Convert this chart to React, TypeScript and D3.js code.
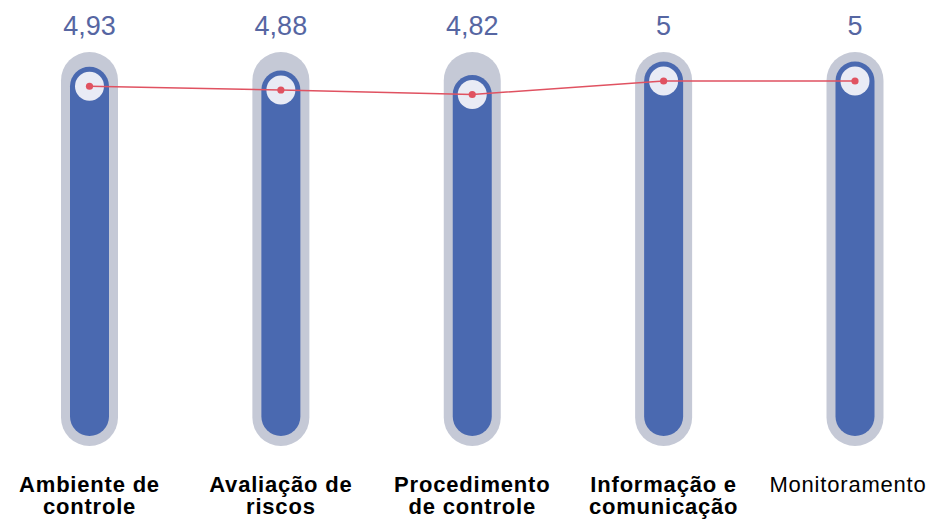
import React from "react";
import * as d3 from "d3";

const categories: string[][] = [
  ["Ambiente de", "controle"],
  ["Avaliação de", "riscos"],
  ["Procedimento", "de controle"],
  ["Informação e", "comunicação"],
  ["Monitoramento"],
];
const values: number[] = [4.93, 4.88, 4.82, 5, 5];
const valueLabels: string[] = ["4,93", "4,88", "4,82", "5", "5"];
const boldFlags: boolean[] = [true, true, true, true, false];
const maxValue = 5;

const W = 929;
const H = 520;

export default function App() {
  const idx = values.map((_, i) => String(i));
  const x = d3.scalePoint<string>().domain(idx).range([89.5, 855]);
  const y = d3.scaleLinear().domain([0, maxValue]).range([436, 61.5]);

  const barW = 39;
  const trackW = 57;
  const pts: [number, number][] = values.map((v, i) => [x(String(i))!, y(v) + barW / 2]);
  const line = d3.line()(pts) || "";

  const font = "'Liberation Sans', Arial, Helvetica, sans-serif";

  return (
    <svg
      width={W}
      height={H}
      style={{ position: "absolute", left: 0, top: 0, display: "block", background: "#ffffff" }}
      fontFamily={font}
    >
      {values.map((v, i) => {
        const cx = x(String(i))!;
        const topTrack = y(maxValue) - 9.5;
        const botTrack = y(0) + 10;
        return (
          <g key={i}>
            <rect
              x={cx - trackW / 2}
              y={topTrack}
              width={trackW}
              height={botTrack - topTrack}
              rx={trackW / 2}
              fill="#c5c9d6"
            />
            <rect
              x={cx - barW / 2}
              y={y(v)}
              width={barW}
              height={y(0) - y(v)}
              rx={barW / 2}
              fill="#4a69b0"
            />
            <circle cx={cx} cy={y(v) + barW / 2} r={14.5} fill="#e9ebf5" />
            <text x={cx} y={35} textAnchor="middle" fontSize={27} fill="#5666a2">
              {valueLabels[i]}
            </text>
          </g>
        );
      })}
      <path d={line} fill="none" stroke="#e05261" strokeWidth={1.6} />
      {pts.map((p, i) => (
        <circle key={i} cx={p[0]} cy={p[1]} r={3.6} fill="#e05261" />
      ))}
      {categories.map((lines, i) => {
        let cx = x(String(i))!;
        if (i === categories.length - 1) cx = 848;
        return lines.map((l, j) => (
          <text
            key={i + "-" + j}
            x={cx}
            y={492 + j * 22}
            textAnchor="middle"
            fontSize={22}
            fontWeight={boldFlags[i] ? "bold" : "normal"}
            letterSpacing={0.8}
            fill="#000000"
          >
            {l}
          </text>
        ));
      })}
    </svg>
  );
}
